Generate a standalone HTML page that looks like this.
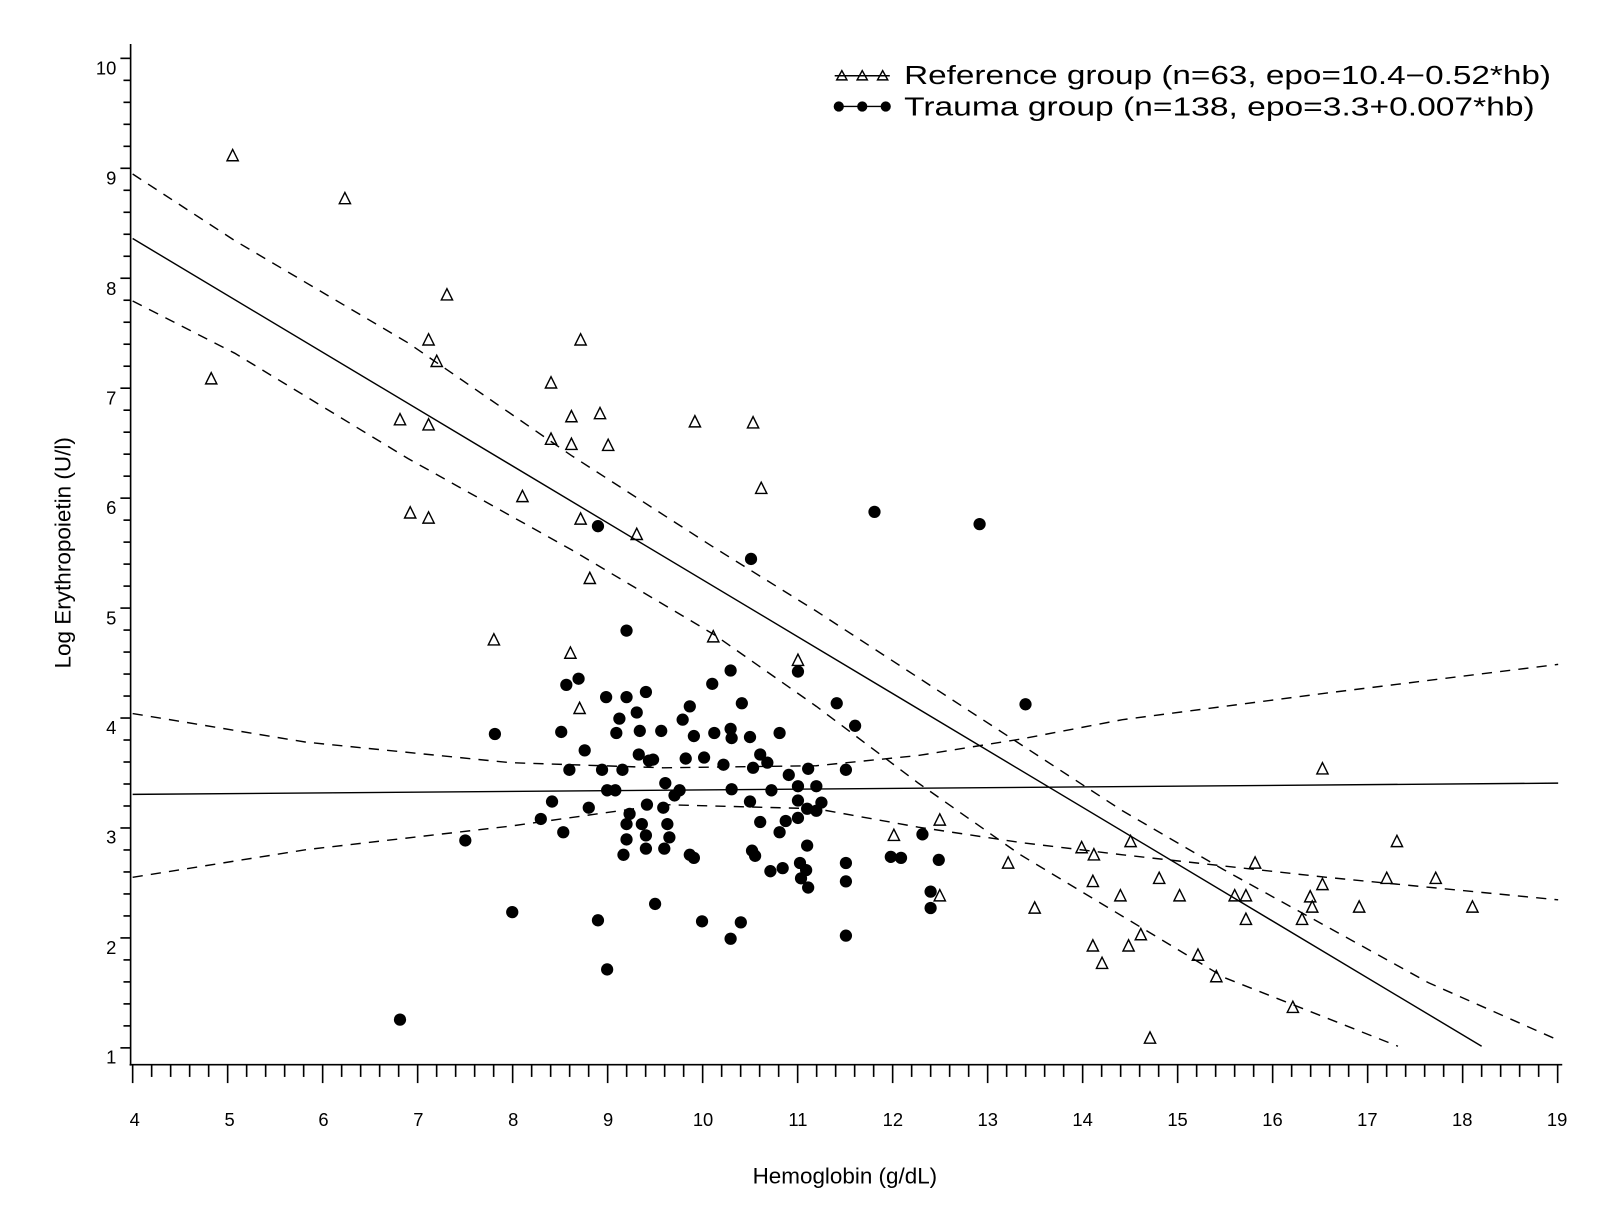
<!DOCTYPE html>
<html><head><meta charset="utf-8"><style>
html,body{margin:0;padding:0;background:#fff;}
svg{display:block;}
text{font-family:"Liberation Sans","DejaVu Sans",sans-serif;fill:#000;}
</style></head><body>
<svg id="s" width="1600" height="1209" viewBox="0 0 1568 1181" preserveAspectRatio="none" xmlns="http://www.w3.org/2000/svg">
<rect width="1568" height="1181" fill="#fff"/>
<g stroke="#000" fill="none" stroke-width="1.6">
<line x1="128" y1="43" x2="128" y2="1041"/>
<line x1="127" y1="1040" x2="1531" y2="1040"/>
</g>
<g id="ticks" stroke="#000" stroke-width="1.6"></g>
<g font-size="18" text-anchor="end">
<text x="114" y="73">10</text><text x="114" y="180">9</text><text x="114" y="288">8</text><text x="114" y="395">7</text><text x="114" y="502">6</text><text x="114" y="610">5</text><text x="114" y="717">4</text><text x="114" y="824">3</text><text x="114" y="932">2</text><text x="114" y="1039">1</text>
</g>
<g font-size="18" text-anchor="middle">
<text x="132" y="1100">4</text><text x="225" y="1100">5</text><text x="317" y="1100">6</text><text x="410" y="1100">7</text><text x="503" y="1100">8</text><text x="596" y="1100">9</text><text x="689" y="1100">10</text><text x="782" y="1100">11</text><text x="875" y="1100">12</text><text x="968" y="1100">13</text><text x="1061" y="1100">14</text><text x="1154" y="1100">15</text><text x="1247" y="1100">16</text><text x="1340" y="1100">17</text><text x="1433" y="1100">18</text><text x="1526" y="1100">19</text>
</g>
<text x="828" y="1156" font-size="22" text-anchor="middle">Hemoglobin (g/dL)</text>
<text x="0" y="0" font-size="22" text-anchor="middle" transform="translate(69,540) rotate(-90)">Log Erythropoietin (U/l)</text>
<g font-size="25">
<text x="886" y="82" textLength="634" lengthAdjust="spacingAndGlyphs">Reference group (n=63, epo=10.4−0.52*hb)</text>
<text x="886" y="113" textLength="618" lengthAdjust="spacingAndGlyphs">Trauma group (n=138, epo=3.3+0.007*hb)</text>
</g>
<g stroke="#000" stroke-width="1.4" fill="none">
<line x1="818" y1="74" x2="872" y2="74"/>
<line x1="818" y1="104" x2="872" y2="104"/>
<path d="M820 78 L825 69 L830 78 Z M840 78 L845 69 L850 78 Z M860 78 L865 69 L870 78 Z"/>
</g>
<g fill="#000"><circle cx="822" cy="104" r="5"/><circle cx="845" cy="104" r="5"/><circle cx="868" cy="104" r="5"/></g>
<g stroke="#000" fill="none" stroke-width="1.4">
<line x1="130" y1="233" x2="1452" y2="1022"/>
<line x1="130" y1="776" x2="1527" y2="765"/>
</g>
<g stroke="#000" fill="none" stroke-width="1.4" stroke-dasharray="10,8">
<polyline points="130,170 230,235 400,335 560,445 700,535 800,597 900,662 1000,727 1100,792 1200,850 1300,905 1400,960 1527,1016"/>
<polyline points="130,294 230,345 400,448 560,537 700,620 800,690 900,765 1000,835 1100,895 1200,955 1370,1022"/>
<polyline points="130,697 300,725 500,745 650,750 800,748 900,738 1000,722 1100,703 1300,677 1527,649"/>
<polyline points="130,857 300,830 500,807 650,786 800,790 900,808 1000,823 1100,835 1300,857 1527,879"/>
</g>
<g id="tri" stroke="#000" stroke-width="1.4" fill="none"></g>
<g id="cir" fill="#000"></g>
</svg>
<script>
var NS="http://www.w3.org/2000/svg";
var tk=document.getElementById("ticks");
function ln(x1,y1,x2,y2){var l=document.createElementNS(NS,"line");l.setAttribute("x1",x1);l.setAttribute("y1",y1);l.setAttribute("x2",x2);l.setAttribute("y2",y2);tk.appendChild(l);}
for(var i=0;i<=45;i++){var v=1+i*0.2;var y=57+(10-v)*107.4;ln(i%5==0?118:121,y,128,y);}
for(var i=0;i<=75;i++){var v=4+i*0.2;var x=130+(v-4)*93.1;ln(x,1040,x,i%5==0?1058:1052);}
var T=[[228,152],[338,194],[438,288],[420,332],[428,353],[207,370],[540,374],[569,332],[392,410],[420,415],[560,407],[588,404],[540,429],[560,434],[596,435],[681,412],[738,413],[746,477],[402,501],[420,506],[512,485],[569,507],[624,522],[578,565],[484,625],[559,638],[699,622],[568,692],[782,645],[1296,751],[876,816],[921,801],[1060,828],[1072,835],[1108,822],[988,843],[1230,843],[1071,861],[1136,858],[1156,875],[1098,875],[1014,887],[1210,875],[1221,875],[1221,898],[1284,876],[1286,886],[1276,898],[1296,864],[1332,886],[1359,858],[1369,822],[1407,858],[1443,886],[921,875],[1071,924],[1080,941],[1106,924],[1118,913],[1174,933],[1192,954],[1267,984],[1127,1014]];
var C=[[392,996],[586,514],[736,546],[857,500],[960,512],[1005,688],[614,616],[782,656],[716,655],[698,668],[727,687],[820,687],[838,709],[555,669],[567,663],[485,717],[550,715],[573,733],[558,752],[594,681],[614,681],[633,676],[607,702],[624,696],[604,716],[627,714],[648,714],[676,690],[669,703],[680,719],[690,740],[700,716],[716,712],[717,721],[735,720],[745,737],[764,716],[672,741],[626,737],[590,752],[610,752],[636,743],[640,742],[603,772],[595,772],[652,765],[666,772],[661,777],[709,747],[738,750],[752,745],[773,757],[792,751],[829,752],[782,768],[800,768],[756,772],[717,771],[735,783],[782,782],[791,790],[805,784],[800,792],[541,783],[530,800],[577,789],[634,786],[617,795],[650,789],[654,805],[629,805],[656,818],[614,805],[633,816],[614,820],[651,829],[633,829],[676,835],[680,838],[611,835],[552,813],[456,821],[745,803],[770,802],[764,813],[782,799],[740,836],[737,831],[791,826],[790,850],[784,843],[767,848],[755,851],[785,858],[792,867],[829,843],[829,861],[873,837],[883,838],[904,815],[920,840],[912,871],[912,887],[502,891],[586,899],[642,883],[688,900],[726,901],[716,917],[595,947],[829,914]];
var tg=document.getElementById("tri"),cg=document.getElementById("cir");
T.forEach(function(p){var e=document.createElementNS(NS,"path");e.setAttribute("d","M"+(p[0]-5.5)+" "+(p[1]+5)+" L"+p[0]+" "+(p[1]-6)+" L"+(p[0]+5.5)+" "+(p[1]+5)+" Z");tg.appendChild(e);});
C.forEach(function(p){var e=document.createElementNS(NS,"circle");e.setAttribute("cx",p[0]);e.setAttribute("cy",p[1]);e.setAttribute("r",6);cg.appendChild(e);});
</script>
</body></html>
